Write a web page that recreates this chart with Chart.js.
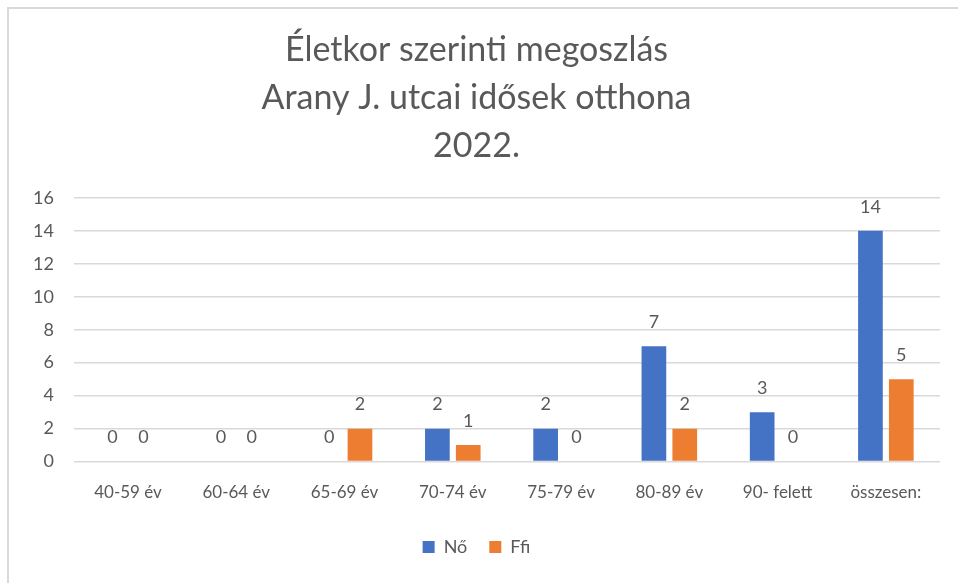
<!DOCTYPE html>
<html>
<head>
<meta charset="utf-8">
<script src="https://cdn.jsdelivr.net/npm/chart.js@4"></script>
<style>
  html, body { margin: 0; padding: 0; background: #fff; overflow: hidden; }
  #frame { position: absolute; left: 7px; top: 7px; width: 960px; height: 590px;
           border-top: 2px solid #d9d9d9; border-left: 2px solid #d9d9d9; }
  #wrap { position: absolute; left: 0; top: 0; width: 976px; height: 583px; }
</style>
</head>
<body>
<div id="frame"></div>
<!-- the original chart box runs a bit past the right edge, so the canvas does too -->
<div id="wrap"><canvas id="chartjs-0" width="976" height="583"></canvas></div>
<script>
"use strict";

// categories and series
let ageGroups = ["40-59 év", "60-64 év", "65-69 év", "70-74 év", "75-79 év", "80-89 év", "90- felett", "összesen:"];
let noValues = [0, 0, 0, 2, 2, 7, 3, 14];
let ffiValues = [0, 0, 2, 1, 0, 2, 0, 5];
let titleLines = ["Életkor szerinti megoszlás", "Arany J. utcai idősek otthona", "2022."];

let textColor = "#595959";
let fontName = "Lato, 'Open Sans', sans-serif";

/* draw the value above every bar, zeros included */
let valueLabels = {
    id: "valueLabels",
    afterDatasetsDraw(chart) {
        let ctx = chart.ctx;
        ctx.save();
        ctx.font = "18px " + fontName;
        ctx.fillStyle = textColor;
        ctx.textAlign = "center";
        ctx.textBaseline = "middle";
        chart.data.datasets.forEach(function (ds, i) {
            let meta = chart.getDatasetMeta(i);
            meta.data.forEach(function (bar, j) {
                ctx.fillText(ds.data[j], bar.x, bar.y - 24);
            });
        });
        ctx.restore();
    }
};

let ctx0 = document.getElementById("chartjs-0");
let myChart0 = new Chart(ctx0, {
    type: "bar",
    data: {
        labels: ageGroups,
        datasets: [
            { label: "Nő", data: noValues, backgroundColor: "#4472C4",
              categoryPercentage: 0.57, barPercentage: 0.8 },
            { label: "Ffi", data: ffiValues, backgroundColor: "#ED7D31",
              categoryPercentage: 0.57, barPercentage: 0.8 }
        ]
    },
    options: {
        responsive: false,
        animation: false,
        layout: { padding: { left: 13, right: 36, top: 26, bottom: 17 } },
        plugins: {
            title: {
                display: true,
                text: titleLines,
                color: textColor,
                font: { family: fontName, size: 34, weight: "normal", lineHeight: 1.41 },
                padding: { top: 0, bottom: 28 }
            },
            legend: {
                position: "bottom",
                labels: {
                    color: textColor,
                    font: { family: fontName, size: 18 },
                    boxWidth: 12,
                    boxHeight: 12,
                    padding: 22
                }
            },
            tooltip: { enabled: false }
        },
        scales: {
            x: {
                grid: { display: false },
                border: { display: false },
                ticks: { color: textColor, font: { family: fontName, size: 17 }, padding: 13, maxRotation: 0 }
            },
            y: {
                min: 0,
                max: 16,
                ticks: { stepSize: 2, color: textColor, font: { family: fontName, size: 18 }, padding: 20 },
                grid: { color: "#d9d9d9", lineWidth: 1.5, drawTicks: false },
                border: { display: false }
            }
        }
    },
    plugins: [valueLabels]
});
</script>
</body>
</html>
